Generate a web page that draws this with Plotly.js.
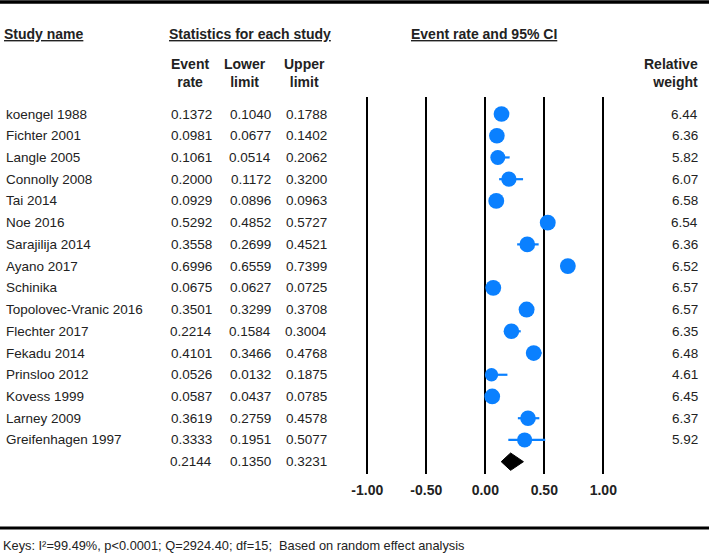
<!DOCTYPE html>
<html>
<head>
<meta charset="utf-8">
<script src="https://cdn.plot.ly/plotly-3.0.1.min.js"></script>
<style>html,body{margin:0;padding:0;background:#fff;}#chart{width:709px;height:556px;}</style>
</head>
<body>
<div id="chart"></div>
<script>
// ---- data ----
const studyNames = ["koengel 1988","Fichter 2001","Langle 2005","Connolly 2008","Tai 2014","Noe 2016","Sarajilija 2014","Ayano 2017","Schinika","Topolovec-Vranic 2016","Flechter 2017","Fekadu 2014","Prinsloo 2012","Kovess 1999","Larney 2009","Greifenhagen 1997"];
const eventRate = [0.1372,0.0981,0.1061,0.2000,0.0929,0.5292,0.3558,0.6996,0.0675,0.3501,0.2214,0.4101,0.0526,0.0587,0.3619,0.3333];
const lowerLimit = [0.1040,0.0677,0.0514,0.1172,0.0896,0.4852,0.2699,0.6559,0.0627,0.3299,0.1584,0.3466,0.0132,0.0437,0.2759,0.1951];
const upperLimit = [0.1788,0.1402,0.2062,0.3200,0.0963,0.5727,0.4521,0.7399,0.0725,0.3708,0.3004,0.4768,0.1875,0.0785,0.4578,0.5077];
const relWeight = [6.44,6.36,5.82,6.07,6.58,6.54,6.36,6.52,6.57,6.57,6.35,6.48,4.61,6.45,6.37,5.92];
const summaryRate = 0.2144, summaryLower = 0.1350, summaryUpper = 0.3231;
const tickVals = [-1, -0.5, 0, 0.5, 1];
const tickLabels = ["-1.00","-0.50","0.00","0.50","1.00"];
const keysText = "Keys: I²=99.49%, p<0.0001; Q=2924.40; df=15;  Based on random effect analysis";

// ---- layout helpers ----
const W = 709, H = 556;
const FONT = "Liberation Sans, Arial, sans-serif";
const TXT = "#222";
const BLUE = "#0a80ff";
const px = x => x / W;
const py = y => 1 - y / H;
const fmt = v => v.toFixed(4);
const n = studyNames.length;
const rowIdx = studyNames.map((_, i) => i);

const traces = [];
// confidence intervals (drawn under the markers)
traces.push({
  type: "scatter", mode: "markers",
  x: eventRate, y: rowIdx,
  marker: { color: BLUE, size: 1, opacity: 0 },
  error_x: {
    type: "data", symmetric: false,
    array: eventRate.map((v, i) => upperLimit[i] - v),
    arrayminus: eventRate.map((v, i) => v - lowerLimit[i]),
    color: BLUE, thickness: 2.2, width: 0
  },
  hoverinfo: "skip", cliponaxis: false
});
// study points
traces.push({
  type: "scatter", mode: "markers",
  x: eventRate, y: rowIdx,
  marker: { color: BLUE, opacity: 1, size: relWeight.map(w => 6.2 * Math.sqrt(w)), symbol: "circle", line: {width: 0} },
  hoverinfo: "skip", cliponaxis: false
});
// summary diamond
const dh = 0.4;
traces.push({
  type: "scatter", mode: "lines",
  x: [summaryLower, summaryRate, summaryUpper, summaryRate, summaryLower],
  y: [n, n - dh, n, n + dh, n],
  fill: "toself", fillcolor: "#000", line: {color: "#000", width: 1},
  hoverinfo: "skip", cliponaxis: false
});

const ann = [];
const rowFont = {family: FONT, size: 13.5, color: TXT};
studyNames.forEach((s, i) => {
  ann.push({xref: "paper", yref: "y", x: px(4), y: i, text: s, xanchor: "left", yanchor: "middle", showarrow: false, font: rowFont});
});
const numCols = [[eventRate.concat([summaryRate]), 214], [lowerLimit.concat([summaryLower]), 273], [upperLimit.concat([summaryUpper]), 329]];
numCols.forEach(([arr, xr]) => {
  arr.forEach((v, i) => {
    ann.push({xref: "paper", yref: "y", x: px(xr), y: i, text: fmt(v), xanchor: "right", yanchor: "middle", showarrow: false, font: rowFont});
  });
});
relWeight.forEach((w, i) => {
  ann.push({xref: "paper", yref: "y", x: px(700), y: i, text: w.toFixed(2), xanchor: "right", yanchor: "middle", showarrow: false, font: rowFont});
});
const hFont = {family: FONT, size: 14, color: TXT, weight: 700};
function hdr(text, x, y, anchor) {
  ann.push({xref: "paper", yref: "paper", x: px(x), y: py(y), text: text, xanchor: anchor, yanchor: "middle", showarrow: false, font: hFont, align: anchor === "right" ? "right" : "center"});
}
hdr("<u>Study name</u>", 2, 34, "left");
hdr("<u>Statistics for each study</u>", 167, 34, "left");
hdr("<u>Event rate and 95% CI</u>", 409, 34, "left");
hdr("Event<br>rate", 190, 73, "center");
hdr("Lower<br>limit", 245, 73, "center");
hdr("Upper<br>limit", 304, 73, "center");
hdr("Relative<br>weight", 700, 73, "right");
ann.push({xref: "paper", yref: "paper", x: px(1), y: py(545), text: keysText, xanchor: "left", yanchor: "middle", showarrow: false, font: {family: FONT, size: 12.8, color: TXT}});

const shapes = [
  {type: "line", xref: "paper", yref: "paper", x0: 0, x1: 1, y0: py(2), y1: py(2), line: {color: "#000", width: 3.5}},
  {type: "line", xref: "paper", yref: "paper", x0: 0, x1: 1, y0: py(528), y1: py(528), line: {color: "#000", width: 3}}
];

const layout = {
  width: W, height: H,
  margin: {l: 0, r: 0, t: 0, b: 0, pad: 0},
  paper_bgcolor: "#fff", plot_bgcolor: "rgba(0,0,0,0)",
  showlegend: false,
  font: {family: FONT, color: TXT},
  xaxis: {
    domain: [0, 1],
    range: [(0 - 485.3) / 118, (W - 485.3) / 118],
    tickvals: tickVals, ticktext: tickLabels,
    showgrid: true, gridcolor: "#000", gridwidth: 2,
    zeroline: false, showline: false, ticks: "",
    tickfont: {family: FONT, size: 14, color: TXT, weight: 700},
    ticklabelstandoff: 6,
    fixedrange: true
  },
  yaxis: {
    domain: [1 - 474 / H, 1 - 97 / H],
    range: [(474 - 114) / 21.73, (97 - 114) / 21.73],
    showgrid: false, zeroline: false, showticklabels: false, showline: false, ticks: "",
    fixedrange: true
  },
  annotations: ann,
  shapes: shapes
};

Plotly.newPlot("chart", traces, layout, {staticPlot: true, displayModeBar: false});
</script>
</body>
</html>
